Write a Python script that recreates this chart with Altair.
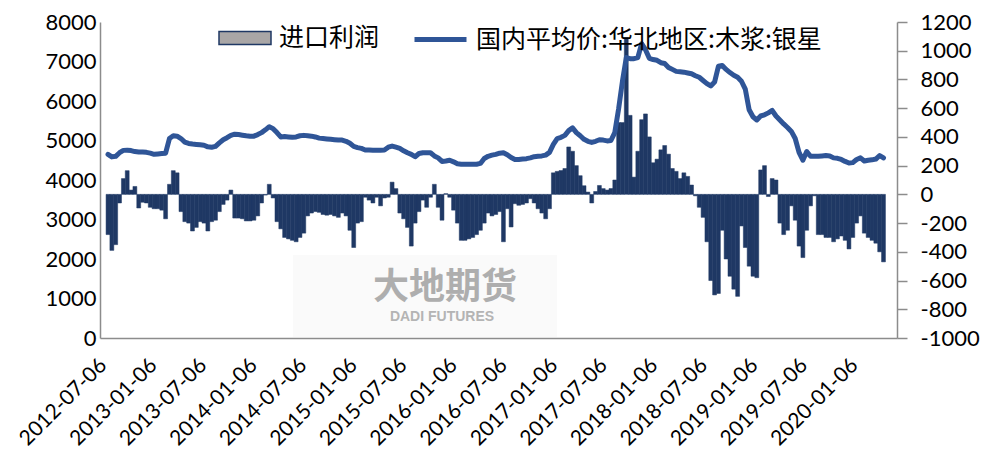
import altair as alt
import pandas as pd

# ---------------- data ----------------
START_DATE = "2012-07-06"
PERIOD_DAYS = 14

# 进口利润 (right axis), one value per two-week period
PROFIT = [
    -280, -390, -350, -60, 110, 165, 30, 55, -95, -55,
    -60, -90, -100, -100, -110, -170, 70, 165, 150, -120,
    -190, -200, -255, -230, -190, -200, -255, -190, -180, -120,
    -70, -40, 30, -165, -165, -170, -185, -185, -180, -150,
    -60, -5, 70, -25, -190, -240, -300, -310, -320, -330,
    -300, -270, -150, -130, -120, -125, -140, -145, -140, -150,
    -160, -130, -150, -250, -370, -200, -190, -20, -40, -60,
    -20, -80, -25, -20, 85, 40, -130, -170, -230, -360,
    -200, -120, -40, -90, -20, 70, -90, -180, 5, -20,
    -110, -200, -320, -320, -310, -300, -280, -250, -200, -130,
    -150, -140, -120, -330, -100, -227, -65, -76, -70, -60,
    -30, -60, -100, -130, -170, -100, 150, 160, 166, 180,
    330, 300, 200, 130, 60, 16, -60, 20, 62, 40,
    30, 40, 100, 500, 500, 1090, 550, 120, 300, 520,
    560, 400, 220, 245, 310, 340, 280, 180, 160, 110,
    150, 125, 65, -10, -90, -160, -330, -600, -700, -690,
    -250, -450, -570, -660, -710, -220, -370, -500, -570, -580,
    170, 200, -15, 110, 100, -200, -280, -250, -80, -180,
    -360, -440, -250, -80, -10, -280, -280, -300, -300, -330,
    -310, -290, -320, -380, -300, -200, -150, -270, -300, -320,
    -340, -400, -470,
]

# 国内平均价:华北地区:木浆:银星 (left axis)
PRICE = [
    4650, 4585, 4600, 4690, 4750, 4755, 4745, 4720, 4710, 4710,
    4700, 4680, 4650, 4660, 4670, 4680, 5050, 5120, 5110, 5050,
    4960, 4925, 4910, 4900, 4890, 4880, 4840, 4830, 4850, 4940,
    5020, 5070, 5130, 5160, 5150, 5135, 5120, 5110, 5110, 5150,
    5200, 5270, 5350, 5300, 5200, 5090, 5100, 5090, 5080, 5090,
    5120, 5130, 5120, 5110, 5090, 5060, 5050, 5040, 5030, 5020,
    5010, 5010, 4980, 4930, 4850, 4820, 4800, 4760, 4760, 4755,
    4755, 4755, 4760, 4830, 4860, 4830, 4800, 4740, 4690, 4650,
    4590, 4670, 4690, 4690, 4690, 4610, 4560, 4470, 4480, 4500,
    4460, 4410, 4400, 4400, 4400, 4400, 4400, 4420, 4545, 4600,
    4630, 4650, 4680, 4690, 4640, 4570, 4520, 4520, 4530, 4540,
    4560, 4590, 4600, 4610, 4630, 4700, 4900, 5050, 5080, 5130,
    5250, 5320, 5200, 5120, 5030, 4980, 4950, 4980, 5020, 5010,
    4990, 5000, 5200, 5800, 6500, 7100, 7070, 7070, 7100, 7450,
    7300, 7080, 7050, 7030, 6970, 6950, 6850, 6800, 6750, 6740,
    6730, 6710, 6690, 6640, 6600, 6520, 6440, 6380, 6480, 6880,
    6900, 6800, 6720, 6650, 6600, 6500, 6300, 5780, 5600, 5520,
    5620, 5650, 5700, 5760, 5620, 5520, 5420, 5330, 5230, 5050,
    4700, 4500, 4720, 4600, 4600, 4600, 4610, 4620, 4610, 4560,
    4550, 4520, 4470, 4430, 4440, 4520, 4560, 4480, 4500, 4510,
    4530, 4620, 4560,
]

BAR_NAME = "进口利润"
LINE_NAME = "国内平均价:华北地区:木浆:银星"

X_TICK_LABELS = [
    "2012-07-06", "2013-01-06", "2013-07-06", "2014-01-06", "2014-07-06",
    "2015-01-06", "2015-07-06", "2016-01-06", "2016-07-06", "2017-01-06",
    "2017-07-06", "2018-01-06", "2018-07-06", "2019-01-06", "2019-07-06",
    "2020-01-06",
]
X_DOMAIN = ["2012-06-25", "2020-05-04"]
LEFT_TICKS = [0, 1000, 2000, 3000, 4000, 5000, 6000, 7000, 8000]
RIGHT_TICKS = [-1000, -800, -600, -400, -200, 0, 200, 400, 600, 800, 1000, 1200]
WATERMARK_CN = ["大地期货"]
WATERMARK_EN = ["DADI FUTURES"]

# ---------------- styling ----------------
NAVY = "#1F3864"
BLUE = "#2F5597"
AXIS_GRAY = "#8C8C8C"
LEGEND_GRAY = "#A9A6A6"
NUM_FONT = "Lato"
CJK_FONT = "Noto Sans CJK SC"

dates = pd.date_range(START_DATE, periods=len(PROFIT), freq=f"{PERIOD_DAYS}D")
df = pd.DataFrame({
    "date": dates,
    "profit": PROFIT,
    "price": PRICE,
    "bar_name": BAR_NAME,
    "bar_fill_key": BAR_NAME,
    "line_name": LINE_NAME,
})


def dt(s):
    y, m, d = (int(p) for p in s.split("-"))
    return alt.DateTime(year=y, month=m, date=d)


x_enc = alt.X(
    "date:T",
    title=None,
    scale=alt.Scale(domain=[dt(s) for s in X_DOMAIN]),
    axis=alt.Axis(
        values=[dt(s) for s in X_TICK_LABELS],
        format="%Y-%m-%d",
        labelAngle=-45,
        labelAlign="right",
        labelBaseline="middle",
        labelPadding=24,
        labelOffset=-5,
        labelFlush=False,
        labelOverlap=False,
        ticks=False,
        tickSize=0,
        grid=False,
        domainColor=AXIS_GRAY,
        domainWidth=1.5,
        labelFont=NUM_FONT,
        labelFontSize=21,
        labelColor="#000000",
    ),
)

BAR_SYMBOL = "M-1,-0.25L1,-0.25L1,0.25L-1,0.25Z"

bars = alt.Chart(df).mark_bar(size=3.9, strokeWidth=0.5).encode(
    x=x_enc,
    y=alt.Y(
        "profit:Q",
        title=None,
        scale=alt.Scale(domain=[RIGHT_TICKS[0], RIGHT_TICKS[-1]], nice=False, zero=False),
        axis=alt.Axis(
            orient="right",
            values=RIGHT_TICKS,
            labelExpr="'' + datum.value",
            grid=False,
            ticks=True,
            tickSize=10,
            tickWidth=1.5,
            tickColor=AXIS_GRAY,
            domainColor=AXIS_GRAY,
            domainWidth=1.5,
            labelPadding=13,
            labelFlush=False,
            labelFont=NUM_FONT,
            labelFontSize=22,
            labelColor="#000000",
        ),
    ),
    y2=alt.datum(0),
    fill=alt.Fill("bar_fill_key:N", scale=alt.Scale(range=[NAVY]), legend=None),
    stroke=alt.Stroke(
        "bar_name:N",
        scale=alt.Scale(range=[NAVY]),
        legend=alt.Legend(
            title=None,
            orient="none",
            legendX=118,
            legendY=-11,
            padding=0,
            symbolType=BAR_SYMBOL,
            symbolSize=2704,
            symbolFillColor=LEGEND_GRAY,
            symbolStrokeColor=NAVY,
            symbolStrokeWidth=1.5,
            labelFont=CJK_FONT,
            labelFontSize=25,
            labelColor="#000000",
            labelOffset=7,
            labelLimit=600,
        ),
    ),
)

line = alt.Chart(df).mark_line(strokeWidth=5, strokeJoin="round", strokeCap="round").encode(
    x=x_enc,
    y=alt.Y(
        "price:Q",
        title=None,
        scale=alt.Scale(domain=[LEFT_TICKS[0], LEFT_TICKS[-1]], nice=False),
        axis=alt.Axis(
            orient="left",
            values=LEFT_TICKS,
            format="d",
            grid=False,
            ticks=False,
            tickSize=0,
            domainColor=AXIS_GRAY,
            domainWidth=1.5,
            labelPadding=4,
            labelFlush=False,
            labelFont=NUM_FONT,
            labelFontSize=22,
            labelColor="#000000",
        ),
    ),
    color=alt.Color(
        "line_name:N",
        scale=alt.Scale(range=[BLUE]),
        legend=alt.Legend(
            title=None,
            orient="none",
            legendX=312,
            legendY=-11,
            padding=0,
            symbolType="stroke",
            symbolSize=2704,
            symbolStrokeWidth=5,
            labelFont=CJK_FONT,
            labelFontSize=25,
            labelColor="#000000",
            labelOffset=7,
            labelLimit=600,
        ),
    ),
)

# faint watermark panel behind the logo text
wm_box = alt.Chart(pd.DataFrame({"t": WATERMARK_CN})).mark_rect(
    color="#FAFAFA"
).encode(x=alt.value(193), x2=alt.value(457), y=alt.value(233), y2=alt.value(315))

wm_cn = alt.Chart(pd.DataFrame({"t": WATERMARK_CN})).mark_text(
    font=CJK_FONT, fontSize=36, fontWeight="bold", color="#9C9C9C", opacity=0.8,
    align="center", baseline="middle",
).encode(text="t:N", x=alt.value(345), y=alt.value(266))

wm_en = alt.Chart(pd.DataFrame({"t": WATERMARK_EN})).mark_text(
    font="Liberation Sans", fontSize=14, fontWeight="bold", color="#B4B4B4",
    align="center", baseline="middle",
).encode(text="t:N", x=alt.value(342), y=alt.value(295))

chart = (
    alt.layer(wm_box, wm_cn, wm_en, bars, line)
    .resolve_scale(y="independent")
    .properties(
        width=797,
        height=316,
        padding={"left": 92, "top": 14, "right": 83, "bottom": 114},
        autosize=alt.AutoSizeParams(type="none"),
    )
    .configure_view(stroke=None)
)

chart.save("out.html", embed_options={"renderer": "svg", "actions": False})
